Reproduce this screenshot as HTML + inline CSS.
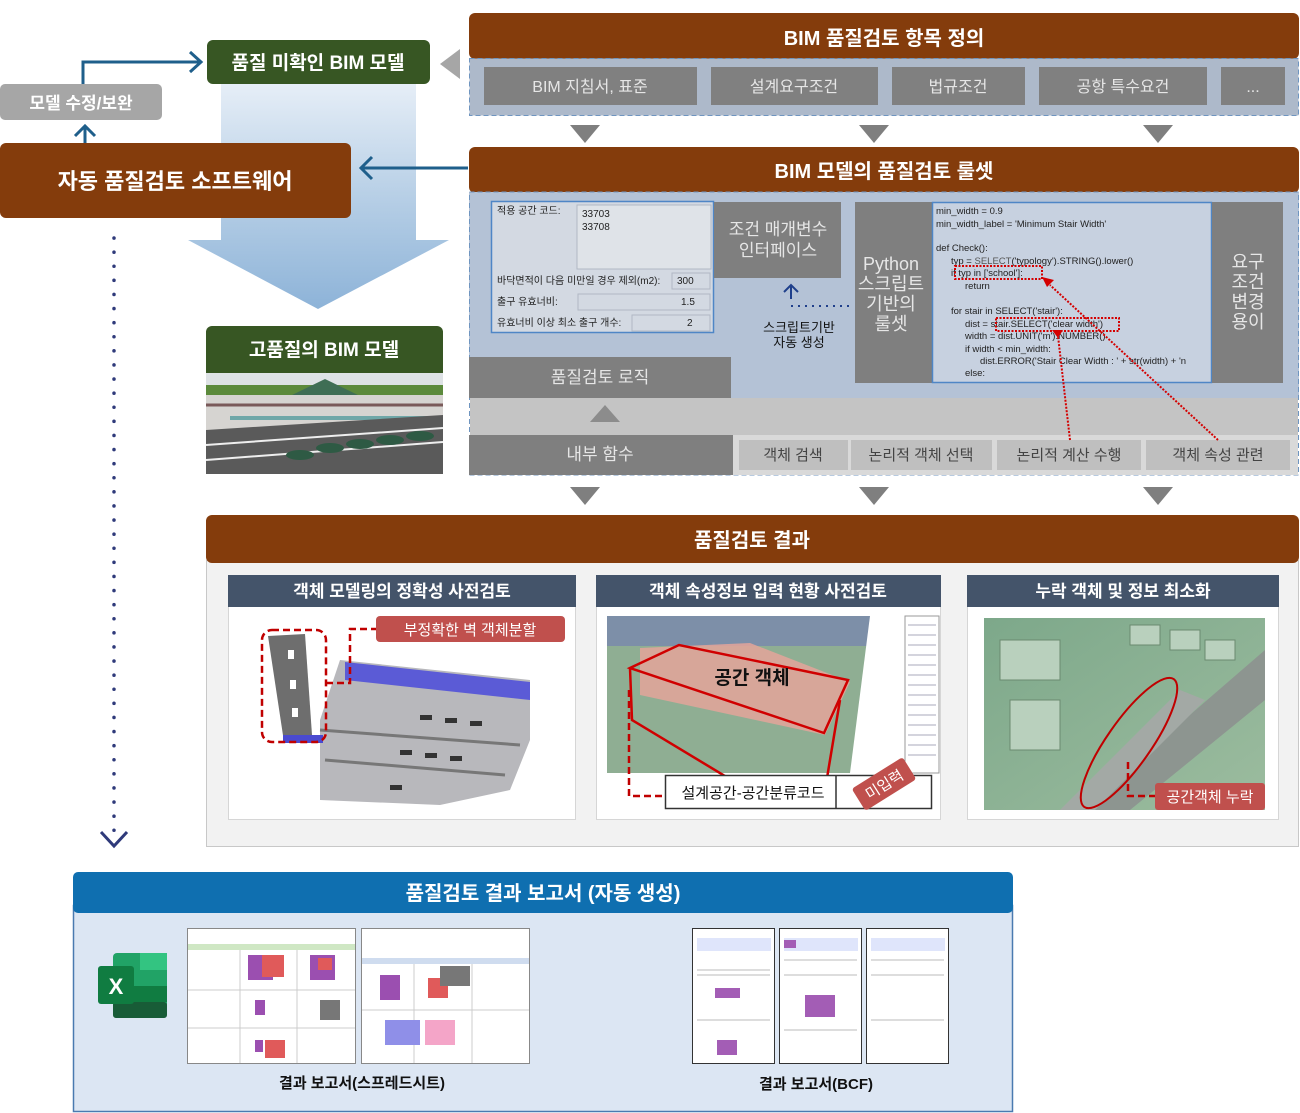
<!DOCTYPE html>
<html><head><meta charset="utf-8"><style>
html,body{margin:0;padding:0;background:#fff;}
svg{display:block;font-family:"Liberation Sans","Noto Sans CJK KR",sans-serif;}
</style></head><body>
<svg width="1300" height="1113" viewBox="0 0 1300 1113" xmlns="http://www.w3.org/2000/svg">
<defs>
<linearGradient id="bg" x1="0" y1="0" x2="0" y2="1"><stop offset="0" stop-color="#e6eef7"/><stop offset="0.5" stop-color="#b7cfe6"/><stop offset="1" stop-color="#8db3d8"/></linearGradient>
<linearGradient id="sky" x1="0" y1="0" x2="0" y2="1"><stop offset="0" stop-color="#dfe3e6"/><stop offset="1" stop-color="#cfd6d9"/></linearGradient>
<linearGradient id="grn" x1="0" y1="0" x2="1" y2="1"><stop offset="0" stop-color="#7da88a"/><stop offset="1" stop-color="#9cbc9f"/></linearGradient>
</defs>

<path d="M221 84 H416 V240 H449 L318 309 L188 240 H221 Z" fill="url(#bg)"/>

<rect x="207" y="40" width="223" height="44" rx="6" fill="#375623"/>
<text x="318" y="69" fill="#fff" font-size="19" font-weight="bold" text-anchor="middle">품질 미확인 BIM 모델</text>
<path d="M440 64 L460 49 V79 Z" fill="#a6a6a6"/>
<rect x="0" y="84" width="162" height="36" rx="5" fill="#a6a6a6"/>
<text x="81" y="109" fill="#fff" font-size="17" font-weight="bold" text-anchor="middle">모델 수정/보완</text>
<path d="M83 84 V62 H199" fill="none" stroke="#1f5f8b" stroke-width="3"/>
<path d="M190 52 L201 62 L190 72" fill="none" stroke="#1f5f8b" stroke-width="3"/>
<path d="M85 143 V128 M75 136 L85 126 L95 136" fill="none" stroke="#1f5f8b" stroke-width="3"/>
<rect x="0" y="143" width="351" height="75" rx="6" fill="#843c0c"/>
<text x="175" y="189" fill="#fff" font-size="22" font-weight="bold" text-anchor="middle">자동 품질검토 소프트웨어</text>
<path d="M468 168 H362 M372 157 L361 168 L372 179" fill="none" stroke="#1f5f8b" stroke-width="3"/>
<line x1="114" y1="238" x2="114" y2="838" stroke="#2f3a7a" stroke-width="3.5" stroke-dasharray="0.1 14" stroke-linecap="round"/>
<path d="M101 832 L114 846 L127 832" fill="none" stroke="#2f3a7a" stroke-width="3"/>

<rect x="206" y="326" width="237" height="50" rx="6" fill="#375623"/>
<rect x="206" y="360" width="237" height="14" fill="#375623"/>
<text x="324" y="356" fill="#fff" font-size="19" font-weight="bold" text-anchor="middle">고품질의 BIM 모델</text>
<rect x="206" y="373" width="237" height="101" fill="url(#sky)"/>
<rect x="206" y="385" width="237" height="10" fill="#5c8a3c"/>
<path d="M290 396 L325 379 L360 396 Z" fill="#3f6e55"/>
<path d="M206 395 L443 395 L443 430 L206 430 Z" fill="#d6d4d1"/>
<path d="M206 405 H443" stroke="#7a5a5a" stroke-width="3"/>
<path d="M230 418 H440" stroke="#6fa7a8" stroke-width="4"/>
<path d="M206 430 L443 415 L443 474 L206 474 Z" fill="#5a5a5a"/>
<path d="M206 445 L443 428 M206 460 L443 442" stroke="#eee" stroke-width="2"/>
<g fill="#2e5a44"><ellipse cx="330" cy="448" rx="14" ry="5"/><ellipse cx="360" cy="444" rx="14" ry="5"/><ellipse cx="390" cy="440" rx="14" ry="5"/><ellipse cx="420" cy="436" rx="14" ry="5"/><ellipse cx="300" cy="455" rx="14" ry="5"/></g>

<rect x="469" y="13" width="830" height="46" rx="6" fill="#843c0c"/>
<text x="884" y="45" fill="#fff" font-size="20" font-weight="bold" text-anchor="middle">BIM 품질검토 항목 정의</text>
<rect x="469.5" y="58.5" width="829" height="57" fill="#adb9ca" stroke="#6f95c0" stroke-dasharray="5 3"/>
<g fill="#808080"><rect x="484" y="67" width="213" height="38"/><rect x="711" y="67" width="167" height="38"/><rect x="892" y="67" width="133" height="38"/><rect x="1039" y="67" width="168" height="38"/><rect x="1221" y="67" width="64" height="38"/></g>
<g fill="#e6e6e6" font-size="16" text-anchor="middle"><text x="590" y="92">BIM 지침서, 표준</text><text x="794" y="92">설계요구조건</text><text x="958" y="92">법규조건</text><text x="1123" y="92">공항 특수요건</text><text x="1253" y="92">...</text></g>
<g fill="#7f7f7f"><path d="M570 125 H600 L585 143 Z"/><path d="M859 125 H889 L874 143 Z"/><path d="M1143 125 H1173 L1158 143 Z"/></g>

<rect x="469" y="147" width="830" height="46" rx="6" fill="#843c0c"/>
<text x="884" y="178" fill="#fff" font-size="20" font-weight="bold" text-anchor="middle">BIM 모델의 품질검토 룰셋</text>
<rect x="469" y="192" width="830" height="206" fill="#b4c2d6"/>
<rect x="469.5" y="192" width="829" height="283" fill="none" stroke="#6f95c0" stroke-dasharray="5 3"/>
<rect x="491.5" y="201.5" width="222" height="131" fill="#d3d9e2" stroke="#4f86c6" stroke-width="1.5"/>
<rect x="577" y="205" width="134" height="64" fill="#dfe3e8" stroke="#b0b8c4"/>
<g font-size="10" fill="#222"><text x="497" y="214">적용 공간 코드:</text><text x="582" y="217">33703</text><text x="582" y="230">33708</text>
<text x="497" y="284">바닥면적이 다음 미만일 경우 제외(m2):</text><text x="677" y="284">300</text>
<text x="497" y="305">출구 유효너비:</text><text x="681" y="305">1.5</text>
<text x="497" y="326">유효너비 이상 최소 출구 개수:</text><text x="687" y="326">2</text></g>
<rect x="672" y="273" width="38" height="16" fill="none" stroke="#b0b8c4"/><rect x="578" y="294" width="132" height="16" fill="none" stroke="#b0b8c4"/><rect x="632" y="315" width="78" height="16" fill="none" stroke="#b0b8c4"/>
<rect x="714" y="202" width="127" height="76" fill="#7f7f7f"/>
<g fill="#e6e6e6" font-size="17" text-anchor="middle"><text x="778" y="235">조건 매개변수</text><text x="778" y="256">인터페이스</text></g>
<path d="M791 299 V286 M784 292 L791 285 L798 292" fill="none" stroke="#1f3f8b" stroke-width="2"/>
<line x1="791" y1="306" x2="850" y2="306" stroke="#1f3f8b" stroke-width="2" stroke-dasharray="2 5"/>
<g fill="#111" font-size="13" text-anchor="middle"><text x="799" y="332">스크립트기반</text><text x="799" y="347">자동 생성</text></g>
<rect x="855" y="202" width="77" height="181" fill="#7f7f7f"/>
<g fill="#e6e6e6" font-size="18" text-anchor="middle"><text x="891" y="270">Python</text><text x="891" y="290">스크립트</text><text x="891" y="310">기반의</text><text x="891" y="330">룰셋</text></g>
<rect x="932.5" y="202.5" width="279" height="180" fill="#c7d1e0" stroke="#4f86c6" stroke-width="1.5"/>
<g font-size="9.5" fill="#222"><text x="936" y="214">min_width = 0.9</text><text x="936" y="227">min_width_label = 'Minimum Stair Width'</text>
<text x="936" y="251">def Check():</text><text x="951" y="264">typ = <tspan fill="#555">SELECT</tspan>('typology').STRING().lower()</text>
<text x="951" y="276">if typ in ['school']:</text><text x="965" y="289">return</text>
<text x="951" y="314">for stair in SELECT('stair'):</text><text x="965" y="327">dist = stair.SELECT('clear width')</text>
<text x="965" y="339">width = dist.UNIT('m').NUMBER()</text><text x="965" y="352">if width &lt; min_width:</text>
<text x="980" y="364">dist.ERROR('Stair Clear Width : ' + str(width) + 'n</text><text x="965" y="376">else:</text></g>
<rect x="1212" y="202" width="71" height="181" fill="#7f7f7f"/>
<g fill="#e6e6e6" font-size="18" text-anchor="middle"><text x="1248" y="268">요구</text><text x="1248" y="288">조건</text><text x="1248" y="308">변경</text><text x="1248" y="328">용이</text></g>
<rect x="469" y="357" width="262" height="41" fill="#7f7f7f"/>
<text x="600" y="383" fill="#e6e6e6" font-size="17" text-anchor="middle">품질검토 로직</text>
<rect x="470" y="398" width="828" height="37" fill="#c4c4c4"/>
<path d="M590 422 L605 405 L620 422 Z" fill="#8c8c8c"/>
<rect x="469" y="435" width="264" height="40" fill="#7f7f7f"/>
<text x="600" y="460" fill="#e6e6e6" font-size="17" text-anchor="middle">내부 함수</text>
<rect x="733" y="435" width="565" height="40" fill="#d9d9d9"/>
<g fill="#bfbfbf"><rect x="739" y="440" width="109" height="30"/><rect x="851" y="440" width="141" height="30"/><rect x="997" y="440" width="144" height="30"/><rect x="1146" y="440" width="144" height="30"/></g>
<g fill="#444" font-size="15" text-anchor="middle"><text x="793" y="460">객체 검색</text><text x="921" y="460">논리적 객체 선택</text><text x="1069" y="460">논리적 계산 수행</text><text x="1218" y="460">객체 속성 관련</text></g>
<g fill="none" stroke="#d40000" stroke-width="2" stroke-dasharray="2 1.5"><rect x="955" y="266" width="87" height="13"/><rect x="996" y="318" width="123" height="13"/>
<path d="M1070 440 L1058 336 M1218 440 L1050 285"/></g>
<path d="M1052 330 L1058 338 L1063 330 Z M1042 277 L1047 287 L1054 280 Z" fill="#d40000"/>
<g fill="#7f7f7f"><path d="M570 487 H600 L585 505 Z"/><path d="M859 487 H889 L874 505 Z"/><path d="M1143 487 H1173 L1158 505 Z"/></g>

<rect x="206.5" y="560.5" width="1092" height="286" fill="#f2f2f2" stroke="#c8c8c8"/>
<rect x="206" y="515" width="1093" height="48" rx="6" fill="#843c0c"/>
<text x="752" y="547" fill="#fff" font-size="20" font-weight="bold" text-anchor="middle">품질검토 결과</text>
<g fill="#fff" stroke="#d6d6d6"><rect x="228.5" y="575.5" width="347" height="244"/><rect x="596.5" y="575.5" width="344" height="244"/><rect x="967.5" y="575.5" width="311" height="244"/></g>
<g fill="#44546a"><rect x="228" y="575" width="348" height="32"/><rect x="596" y="575" width="345" height="32"/><rect x="967" y="575" width="312" height="32"/></g>
<g fill="#fff" font-size="17" font-weight="bold" text-anchor="middle"><text x="402" y="597">객체 모델링의 정확성 사전검토</text><text x="768" y="597">객체 속성정보 입력 현황 사전검토</text><text x="1123" y="597">누락 객체 및 정보 최소화</text></g>
<path d="M340 660 L530 680 L530 740 L510 790 L440 805 L320 800 L320 720 Z" fill="#b8b8bc"/>
<path d="M345 662 L530 682 L530 700 L345 680 Z" fill="#5b5bd6"/>
<path d="M320 730 L520 745 M325 760 L505 775" stroke="#777" stroke-width="3"/>
<g fill="#333"><rect x="420" y="715" width="12" height="5"/><rect x="445" y="718" width="12" height="5"/><rect x="470" y="721" width="12" height="5"/><rect x="400" y="750" width="12" height="5"/><rect x="425" y="753" width="12" height="5"/><rect x="450" y="756" width="12" height="5"/><rect x="390" y="785" width="12" height="5"/></g>
<path d="M268 636 L305 634 L312 735 L284 742 Z" fill="#6e6e6e"/>
<rect x="283" y="735" width="40" height="8" fill="#4a4ad0"/>
<g fill="#fff"><rect x="288" y="650" width="6" height="9"/><rect x="290" y="680" width="6" height="9"/><rect x="292" y="708" width="6" height="9"/></g>
<rect x="262" y="630" width="64" height="112" rx="10" fill="none" stroke="#c00000" stroke-width="2.5" stroke-dasharray="7 4"/>
<path d="M326 683 H350 V629 H376" fill="none" stroke="#c00000" stroke-width="2.5" stroke-dasharray="7 4"/>
<rect x="376" y="616" width="189" height="26" rx="4" fill="#c0504d"/>
<text x="470" y="635" fill="#fff" font-size="15" text-anchor="middle">부정확한 벽 객체분할</text>
<rect x="607" y="616" width="298" height="157" fill="#8fae93"/>
<rect x="607" y="616" width="298" height="30" fill="#7d8fa8"/>
<path d="M870 616 H905 V773 H850 Z" fill="#fff"/>
<rect x="905" y="616" width="34" height="157" fill="#fff" stroke="#999"/>
<g stroke="#aab" stroke-width="1"><path d="M908 625 H936 M908 635 H936 M908 645 H936 M908 655 H936 M908 665 H936 M908 675 H936 M908 685 H936 M908 695 H936 M908 705 H936 M908 715 H936 M908 725 H936 M908 735 H936 M908 745 H936 M908 755 H936"/></g>
<path d="M640 648 L750 643 L850 682 L825 735 L640 695 Z" fill="#e4a59a" opacity="0.85"/>
<g fill="none" stroke="#d00000" stroke-width="2.5"><path d="M630 668 L679 645 L848 680 L824 733 Z"/><path d="M630 668 L632 720 L758 796 L824 796 L840 700"/></g>
<text x="752" y="684" fill="#111" font-size="19" font-weight="bold" text-anchor="middle">공간 객체</text>
<rect x="665.5" y="775.5" width="266" height="33" fill="#fff" stroke="#333" stroke-width="1.5"/>
<line x1="836" y1="776" x2="836" y2="808" stroke="#333" stroke-width="1.5"/>
<text x="753" y="798" fill="#111" font-size="15" text-anchor="middle">설계공간-공간분류코드</text>
<path d="M629 690 V796 H665" fill="none" stroke="#c00000" stroke-width="2.5" stroke-dasharray="7 4"/>
<g transform="translate(884,784) rotate(-32)"><rect x="-30" y="-13" width="60" height="26" rx="3" fill="#c0504d"/><text x="0" y="6" fill="#fff" font-size="15" text-anchor="middle">미입력</text></g>
<rect x="984" y="618" width="281" height="192" fill="url(#grn)"/>
<path d="M1080 810 L1265 650 L1265 700 L1130 810 Z" fill="#8d9590"/>
<path d="M1060 810 L1180 690 L1205 700 L1095 810 Z" fill="#a3a9a5"/>
<g fill="#b9d0bd" stroke="#6a8a70"><rect x="1000" y="640" width="60" height="40"/><rect x="1130" y="625" width="30" height="20"/><rect x="1170" y="630" width="30" height="20"/><rect x="1205" y="640" width="30" height="20"/><rect x="1010" y="700" width="50" height="50"/></g>
<ellipse cx="1129" cy="743" rx="78" ry="22" transform="rotate(-55 1129 743)" fill="none" stroke="#c00000" stroke-width="2"/>
<path d="M1128 762 V796 H1155" fill="none" stroke="#c00000" stroke-width="2.5" stroke-dasharray="7 4"/>
<rect x="1155" y="783" width="110" height="27" rx="3" fill="#c0504d"/>
<text x="1210" y="802" fill="#fff" font-size="15" text-anchor="middle">공간객체 누락</text>

<rect x="73.5" y="905.5" width="939" height="206" fill="#dce6f3" stroke="#4a7ab0" stroke-width="1.5"/>
<rect x="73" y="872" width="940" height="41" rx="5" fill="#0f6fb0"/>
<text x="543" y="900" fill="#fff" font-size="20" font-weight="bold" text-anchor="middle">품질검토 결과 보고서 (자동 생성)</text>
<rect x="113" y="953" width="54" height="65" rx="4" fill="#21a366"/>
<rect x="140" y="953" width="27" height="17" fill="#33c481"/>
<rect x="113" y="986" width="54" height="16" fill="#107c41"/>
<rect x="113" y="1002" width="54" height="16" rx="3" fill="#185c37"/>
<rect x="98" y="966" width="36" height="38" rx="3" fill="#107c41"/>
<text x="116" y="994" fill="#fff" font-size="22" font-weight="bold" text-anchor="middle">X</text>
<g stroke="#888" stroke-width="1"><rect x="187.5" y="928.5" width="168" height="135" fill="#fff"/><rect x="361.5" y="928.5" width="168" height="135" fill="#fff"/></g>
<rect x="188" y="944" width="167" height="6" fill="#cfe7c4"/><rect x="362" y="958" width="167" height="6" fill="#cfdcef"/>
<g stroke="#ccc"><path d="M240 950 V1063 M297 950 V1063 M188 990 H355 M188 1028 H355 M414 964 V1063 M472 964 V1063 M362 1010 H529"/></g>
<g fill="#9b4fb0"><rect x="248" y="955" width="25" height="25"/><rect x="310" y="955" width="25" height="25"/><rect x="255" y="1000" width="10" height="15"/><rect x="255" y="1040" width="8" height="12"/><rect x="380" y="975" width="20" height="25"/></g>
<g fill="#e05a5a"><rect x="262" y="955" width="22" height="22"/><rect x="318" y="958" width="14" height="12"/><rect x="265" y="1040" width="20" height="18"/><rect x="428" y="978" width="20" height="20"/></g>
<g fill="#8f8fe8"><rect x="385" y="1020" width="35" height="25"/></g>
<g fill="#f4a5c8"><rect x="425" y="1020" width="30" height="25"/></g>
<g fill="#777"><rect x="440" y="966" width="30" height="20"/><rect x="320" y="1000" width="20" height="20"/></g>
<g stroke="#333" fill="#fff"><rect x="692.5" y="928.5" width="82" height="135"/><rect x="779.5" y="928.5" width="82" height="135"/><rect x="866.5" y="928.5" width="82" height="135"/></g>
<g fill="#dfe5fb"><rect x="697" y="938" width="74" height="13"/><rect x="784" y="938" width="74" height="13"/><rect x="871" y="938" width="74" height="13"/></g>
<g fill="#a35db5"><rect x="715" y="988" width="25" height="10"/><rect x="805" y="995" width="30" height="22"/><rect x="717" y="1040" width="20" height="15"/><rect x="784" y="940" width="12" height="8"/></g>
<g stroke="#bbb"><path d="M697 970 H770 M697 975 H770 M697 1020 H770 M784 960 H857 M784 975 H857 M784 1030 H857 M871 960 H944 M871 975 H944 M871 1020 H944"/></g>
<g fill="#111" font-size="15" font-weight="bold" text-anchor="middle"><text x="362" y="1088">결과 보고서(스프레드시트)</text><text x="816" y="1089">결과 보고서(BCF)</text></g>
</svg>
</body></html>
